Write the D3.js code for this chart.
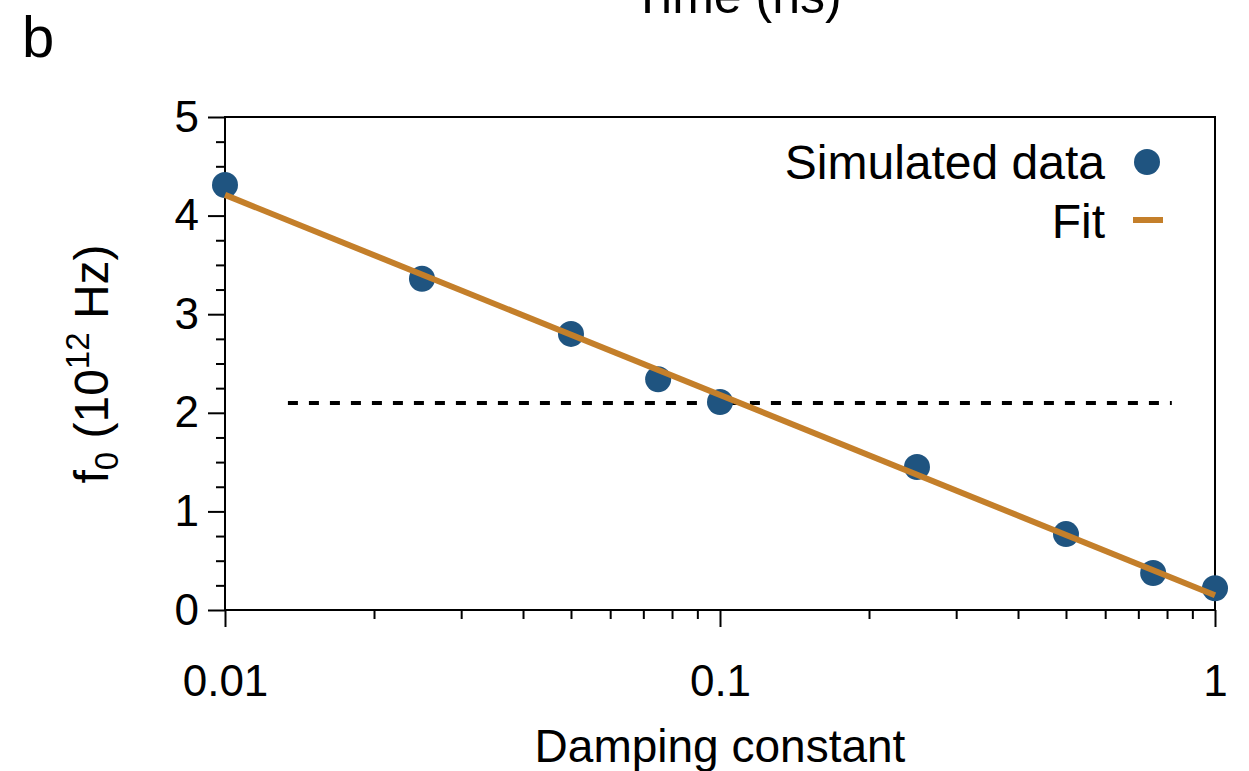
<!DOCTYPE html>
<html>
<head>
<meta charset="utf-8">
<script src="https://cdn.jsdelivr.net/npm/d3@7"></script>
<style>
  html, body { margin: 0; padding: 0; background: #fff; }
  svg { display: block; font-family: "Liberation Sans", Arial, Helvetica, sans-serif; }
</style>
</head>
<body>
<svg id="chart" width="1249" height="771"></svg>
<script>
// Peak frequency f0 versus damping constant
const damping = [0.01, 0.025, 0.05, 0.075, 0.1, 0.25, 0.5, 0.75, 1];
const f0 = [4.31, 3.36, 2.80, 2.34, 2.11, 1.45, 0.77, 0.375, 0.22];

// Log-linear fit endpoints
const fitX = [0.01, 1];
const fitY = [4.21, 0.15];

// Horizontal reference level
const refX = [0.0134, 0.818];
const refY = 2.1;

// Tick labels
const xMajor = [0.01, 0.1, 1];
const xMajorLabels = ["0.01", "0.1", "1"];
const xMinor = [0.02, 0.03, 0.04, 0.05, 0.06, 0.07, 0.08, 0.09, 0.2, 0.3, 0.4, 0.5, 0.6, 0.7, 0.8, 0.9];
const yMajor = [0, 1, 2, 3, 4, 5];
const yMinor = [0.25, 0.5, 0.75, 1.25, 1.5, 1.75, 2.25, 2.5, 2.75, 3.25, 3.5, 3.75, 4.25, 4.5, 4.75];

const legendLabels = ["Simulated data", "Fit"];

const dotColor = "#1f5480";
const fitColor = "#c47f2a";

const svg = d3.select("#chart");
const plotL = 225, plotR = 1215, plotT = 117, plotB = 610;

const x = d3.scaleLog().domain([0.01, 1]).range([plotL, plotR]);
const y = d3.scaleLinear().domain([0, 5]).range([plotB, plotT]);

// Panel letter and the bottom of the title belonging to the panel above
svg.append("text").attr("x", 22).attr("y", 57).attr("font-size", 58).text("b");
svg.append("text").attr("x", 737).attr("y", 13).attr("text-anchor", "middle")
  .attr("font-size", 50).text("Time (ns)");

// Axes
function styleAxis(g) {
  g.select(".domain").remove();
  g.selectAll(".tick line").attr("stroke", "#000").attr("stroke-width", 2);
  g.selectAll(".tick text").attr("fill", "#000").attr("font-size", 44)
    .attr("font-family", "Liberation Sans, Arial, sans-serif");
}

svg.append("g").attr("transform", `translate(0,${plotB})`)
  .call(d3.axisBottom(x).tickValues(xMinor).tickSize(9).tickFormat(""))
  .call(styleAxis);
svg.append("g").attr("transform", `translate(0,${plotB})`)
  .call(d3.axisBottom(x).tickValues(xMajor).tickSize(17).tickPadding(38)
    .tickFormat((d, i) => xMajorLabels[i]))
  .call(styleAxis);

svg.append("g").attr("transform", `translate(${plotL},0)`)
  .call(d3.axisLeft(y).tickValues(yMinor).tickSize(9).tickFormat(""))
  .call(styleAxis);
svg.append("g").attr("transform", `translate(${plotL},0)`)
  .call(d3.axisLeft(y).tickValues(yMajor).tickSize(17).tickPadding(9).tickFormat(d3.format("d")))
  .call(styleAxis);

// Frame
svg.append("rect").attr("x", plotL).attr("y", plotT)
  .attr("width", plotR - plotL).attr("height", plotB - plotT)
  .attr("fill", "none").attr("stroke", "#000").attr("stroke-width", 2);

// Reference level
svg.append("line")
  .attr("x1", x(refX[0])).attr("x2", x(refX[1]))
  .attr("y1", y(refY)).attr("y2", y(refY))
  .attr("stroke", "#000").attr("stroke-width", 4).attr("stroke-dasharray", "10,11");

// Data points
svg.append("g").selectAll("circle")
  .data(damping.map((d, i) => [d, f0[i]]))
  .join("circle")
  .attr("cx", d => x(d[0])).attr("cy", d => y(d[1])).attr("r", 13)
  .attr("fill", dotColor);

// Fit line
svg.append("path")
  .datum(fitX.map((d, i) => [d, fitY[i]]))
  .attr("d", d3.line().x(d => x(d[0])).y(d => y(d[1])))
  .attr("fill", "none").attr("stroke", fitColor).attr("stroke-width", 6);

// Legend
const lg = svg.append("g").attr("font-size", 48);
lg.append("text").attr("x", 1105).attr("y", 179).attr("text-anchor", "end").text(legendLabels[0]);
lg.append("circle").attr("cx", 1147).attr("cy", 162).attr("r", 13).attr("fill", dotColor);
lg.append("text").attr("x", 1105).attr("y", 238).attr("text-anchor", "end").text(legendLabels[1]);
lg.append("line").attr("x1", 1133).attr("x2", 1163).attr("y1", 220).attr("y2", 220)
  .attr("stroke", fitColor).attr("stroke-width", 6);

// Axis titles
svg.append("text").attr("x", (plotL + plotR) / 2).attr("y", 762).attr("text-anchor", "middle")
  .attr("font-size", 46).text("Damping constant");

const yt = svg.append("text").attr("transform", "translate(108,364) rotate(-90)")
  .attr("text-anchor", "middle").attr("font-size", 48);
yt.append("tspan").text("f");
yt.append("tspan").attr("font-size", 33).attr("dy", 10).text("0");
yt.append("tspan").attr("dy", -10).text(" (10");
yt.append("tspan").attr("font-size", 33).attr("dy", -19).text("12");
yt.append("tspan").attr("dy", 19).text(" Hz)");
</script>
</body>
</html>
